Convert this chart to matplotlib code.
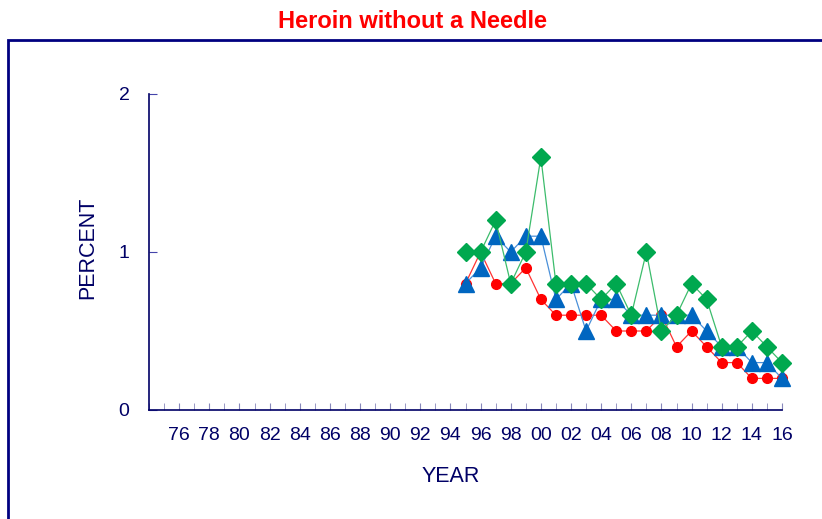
import numpy as np
import matplotlib.pyplot as plt
from matplotlib.patches import Rectangle

plt.rcParams['font.family'] = ['Liberation Sans', 'DejaVu Sans']

# DATA
years = list(range(1995, 2017))
red_vals = [0.8, 1.0, 0.8, 0.8, 0.9, 0.7, 0.6, 0.6, 0.6, 0.6, 0.5,
            0.5, 0.5, 0.6, 0.4, 0.5, 0.4, 0.3, 0.3, 0.2, 0.2, 0.2]
blue_vals = [0.8, 0.9, 1.1, 1.0, 1.1, 1.1, 0.7, 0.8, 0.5, 0.7, 0.7,
             0.6, 0.6, 0.6, 0.6, 0.6, 0.5, 0.4, 0.4, 0.3, 0.3, 0.2]
green_vals = [1.0, 1.0, 1.2, 0.8, 1.0, 1.6, 0.8, 0.8, 0.8, 0.7, 0.8,
              0.6, 1.0, 0.5, 0.6, 0.8, 0.7, 0.4, 0.4, 0.5, 0.4, 0.3]
tick_years = list(range(1976, 2017, 2))
tick_labels = ['%02d' % (y % 100) for y in tick_years]
y_ticks = [0, 1, 2]

NAVY = '#000066'

fig = plt.figure(figsize=(8.22, 5.19), dpi=100)

# outer frame (cut off on right and bottom)
fig.patches.append(Rectangle((8 / 822, -0.1), 1.0, 1 - 40 / 519 + 0.1,
                             transform=fig.transFigure, fill=False,
                             edgecolor='#000080', linewidth=2))

fig.text(412 / 822, 1 - 21 / 519, 'Heroin without a Needle', color='#ff0000',
         fontsize=17, fontweight='bold', ha='center', va='center')

ax = fig.add_axes([149 / 822, 1 - 410 / 519, (782 - 149) / 822, (410 - 94) / 519])

ax.plot(years, red_vals, color='#ff3333', linewidth=0.9, marker='o',
        markersize=7, markerfacecolor='#ff0000', markeredgecolor='#ff0000',
        zorder=3, clip_on=False)
ax.plot(years, blue_vals, color='#4a90d9', linewidth=0.9, marker='^',
        markersize=12, markerfacecolor='#0066c0', markeredgecolor='#0066c0',
        zorder=4, clip_on=False)
ax.plot(years, green_vals, color='#3cbc6c', linewidth=0.9, marker='D',
        markersize=9.5, markerfacecolor='#00a84f', markeredgecolor='#00a84f',
        zorder=5, clip_on=False)

ax.set_xlim(1974, 2016)
ax.set_ylim(0, 2)
ax.set_xticks(tick_years)
ax.set_xticklabels(tick_labels)
ax.set_xticks(range(1974, 2017), minor=True)
ax.set_yticks(y_ticks)

for s in ['top', 'right']:
    ax.spines[s].set_visible(False)
for s in ['left', 'bottom']:
    ax.spines[s].set_color(NAVY)
    ax.spines[s].set_linewidth(1.2)

ax.tick_params(axis='x', which='both', direction='in', length=5,
               color='#8888bb', labelcolor=NAVY, labelsize=14, pad=12)
ax.tick_params(axis='y', direction='in', length=6, color='#4444aa',
               labelcolor=NAVY, labelsize=14, pad=14)

ax.set_xlabel('YEAR', color=NAVY, fontsize=15.5)
ax.set_ylabel('PERCENT', color=NAVY, fontsize=15.5)
ax.xaxis.set_label_coords((451 - 149) / (782 - 149), -(466 - 410) / (410 - 94))
ax.yaxis.set_label_coords(-(149 - 98) / (782 - 149), (410 - 248) / (410 - 94))

fig.savefig('out.png', dpi=100)
